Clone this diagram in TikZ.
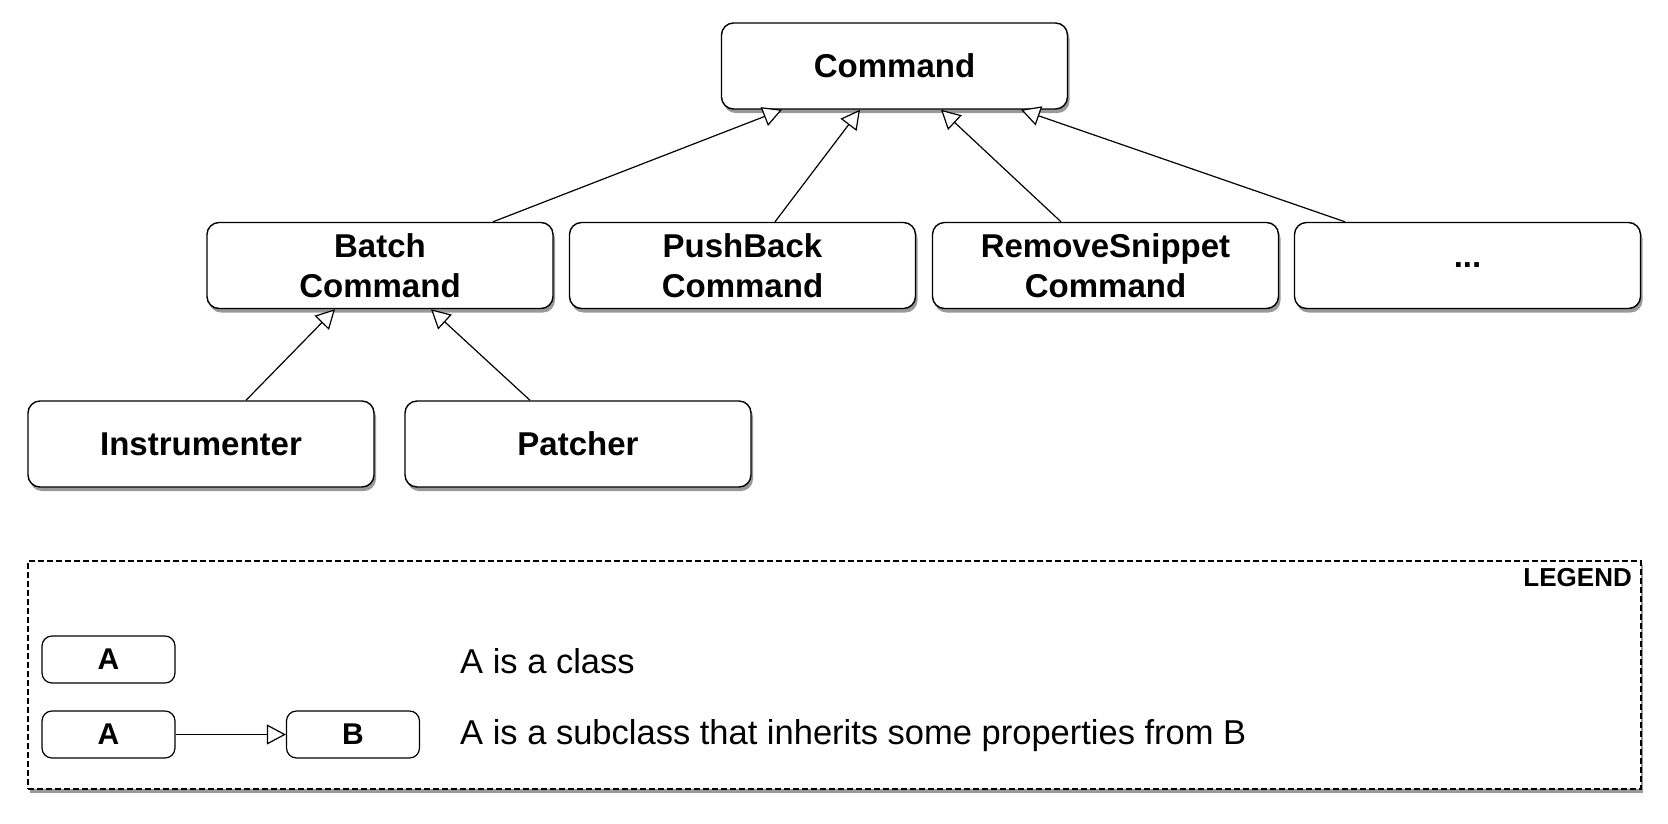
\documentclass[tikz,border=0pt]{standalone}
\usepackage{fontspec}
\setmainfont{Liberation Sans}
\setsansfont{Liberation Sans}
\usetikzlibrary{arrows.meta,shadows,calc}
\begin{document}
\begin{tikzpicture}[x=1pt,y=-1pt,
  cls/.style={draw=black, line width=1.4pt, fill=white, rounded corners=12pt,
    minimum width=346pt, minimum height=86pt, inner sep=0pt, align=center,
    font=\fontsize{33}{40}\selectfont\bfseries,
    drop shadow={shadow xshift=2pt, shadow yshift=-4pt, opacity=0.4, fill=black}},
  lcls/.style={draw=black, line width=1.2pt, fill=white, rounded corners=10pt,
    minimum width=133pt, minimum height=47pt, inner sep=0pt,
    font=\fontsize{30}{36}\selectfont\bfseries},
  inh/.style={draw=black, line width=1.2pt,
    -{Triangle[length=19pt,width=20pt,fill=white,line width=1.2pt]}},
  ltext/.style={anchor=west, inner sep=0pt, font=\fontsize{34.5}{40}\selectfont}
]
\useasboundingbox (0,0) rectangle (1668,823);

% legend frame
\node[draw=black, dashed, dash pattern=on 6pt off 3pt, line width=1.2pt, fill=white,
  minimum width=1613pt, minimum height=228pt, inner sep=0pt,
  drop shadow={shadow xshift=2pt, shadow yshift=-4pt, opacity=0.4, fill=black}]
  (legend) at (834.5,675) {};
\node[anchor=east, inner sep=0pt, font=\fontsize{26}{30}\selectfont\bfseries]
  (legendtitle) at (1632,577.5) {LEGEND};

% class boxes
\node[cls] (cmd) at (894.5,66) {Command};
\node[cls] (batch) at (380,265.5) {Batch\\Command};
\node[cls] (push) at (742.5,265.5) {PushBack\\Command};
\node[cls] (remove) at (1105.5,265.5) {RemoveSnippet\\Command};
\node[cls] (dots) at (1467.5,265.5) {...};
\node[cls] (instr) at (201,444) {Instrumenter};
\node[cls] (patch) at (578,444) {Patcher};

% inheritance connectors
\draw[inh] ([xshift=113pt]batch.north) -- ([xshift=-112.5pt]cmd.south);
\draw[inh] ([xshift=32.5pt]push.north) -- ([xshift=-34.5pt]cmd.south);
\draw[inh] ([xshift=-44.5pt]remove.north) -- ([xshift=46.5pt]cmd.south);
\draw[inh] ([xshift=-122.5pt]dots.north) -- ([xshift=126.5pt]cmd.south);
\draw[inh] ([xshift=45pt]instr.north) -- ([xshift=-45pt]batch.south);
\draw[inh] ([xshift=-48pt]patch.north) -- ([xshift=51pt]batch.south);

% legend content
\node[lcls] (la1) at (108.5,659.5) {A};
\node[lcls] (la2) at (108.5,734.5) {A};
\node[lcls] (lb) at (353,734.5) {B};
\draw[inh] (la2.east) -- (lb.west);
\node[ltext] (t1) at (460,661) {A is a class};
\node[ltext] (t2) at (460,736) {A is a subclass that inherits some properties from B};
\end{tikzpicture}
\end{document}
